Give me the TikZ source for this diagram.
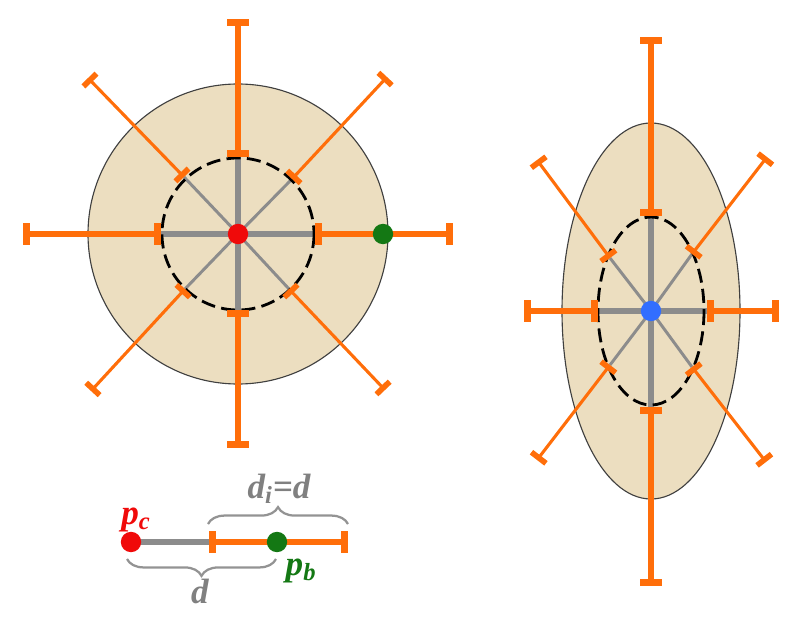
\documentclass[tikz,border=0pt]{standalone}
\usepackage{fontspec}
\setmainfont{Liberation Serif}
\usetikzlibrary{arrows.meta,decorations.pathreplacing}

\definecolor{rayorange}{RGB}{255,110,10}
\definecolor{spokegray}{RGB}{140,140,140}
\definecolor{blobfill}{RGB}{236,222,192}
\definecolor{dotred}{RGB}{240,10,10}
\definecolor{dotgreen}{RGB}{20,120,20}
\definecolor{dotblue}{RGB}{50,110,255}
\definecolor{labelgray}{RGB}{128,128,128}

\tikzset{
  ray/.style={draw=rayorange, line width=4.8pt,
    arrows={Bar[width=15pt,line width=5.2pt]-Bar[width=15pt,line width=5.2pt]}},
  thinray/.style={draw=rayorange, line width=2.2pt,
    arrows={Bar[width=13pt,line width=4pt]-Bar[width=13pt,line width=4pt]}},
  spoke/.style={draw=spokegray, line width=4.3pt},
  thinspoke/.style={draw=spokegray, line width=2.1pt},
  blob/.style={fill=blobfill, draw=black!75, line width=0.8pt},
  innerline/.style={draw=black, line width=2pt, dash pattern=on 10pt off 4.5pt},
  dot/.style={circle, inner sep=0pt, minimum size=14.5pt},
  lbl/.style={font=\fontsize{25}{28}\selectfont\bfseries\itshape, inner sep=0pt},
  curly/.style={draw=labelgray!85, line width=1.6pt, decorate,
    decoration={brace, amplitude=12pt}},
}

\begin{document}
\begin{tikzpicture}[x=0.025cm, y=-0.025cm]
    \useasboundingbox (0,0) rectangle (800,622);

    % Round object
    \coordinate (c1) at (238,234);
    \draw[blob] (c1) circle [radius=150];

    \coordinate (n1) at (315,234); \coordinate (f1) at (453,234);
    \coordinate (n2) at (292,179); \coordinate (f2) at (387,77);
    \coordinate (n3) at (238,157); \coordinate (f3) at (238,19);
    \coordinate (n4) at (184,177); \coordinate (f4) at (88,78);
    \coordinate (n5) at (161,234); \coordinate (f5) at (23,234);
    \coordinate (n6) at (185,289); \coordinate (f6) at (91,391);
    \coordinate (n7) at (238,310); \coordinate (f7) at (238,448);
    \coordinate (n8) at (289,289); \coordinate (f8) at (385,390);

    % Spokes up to the sampling circle
    \draw[spoke] (c1) -- (n1);
    \draw[spoke] (c1) -- (n3);
    \draw[spoke] (c1) -- (n5);
    \draw[spoke] (c1) -- (n7);
    \draw[thinspoke] (c1) -- (n2);
    \draw[thinspoke] (c1) -- (n4);
    \draw[thinspoke] (c1) -- (n6);
    \draw[thinspoke] (c1) -- (n8);
    \draw[innerline] (c1) circle [radius=76];

    % Search intervals
    \draw[ray] (n1) -- (f1);
    \draw[ray] (n3) -- (f3);
    \draw[ray] (n5) -- (f5);
    \draw[ray] (n7) -- (f7);
    \draw[thinray] (n2) -- (f2);
    \draw[thinray] (n4) -- (f4);
    \draw[thinray] (n6) -- (f6);
    \draw[thinray] (n8) -- (f8);

    \node[dot, fill=dotred] (pc1) at (c1) {};
    \node[dot, fill=dotgreen] (pb1) at (383,234) {};

    % Elongated object
    \coordinate (c2) at (651,311);
    \draw[blob] (c2) ellipse [x radius=89, y radius=188];

    \coordinate (m1) at (707,311); \coordinate (g1) at (779,311);
    \coordinate (m2) at (692,254); \coordinate (g2) at (767,157);
    \coordinate (m3) at (651,216); \coordinate (g3) at (651,37);
    \coordinate (m4) at (610,258); \coordinate (g4) at (537,160);
    \coordinate (m5) at (598,311); \coordinate (g5) at (524,311);
    \coordinate (m6) at (610,365); \coordinate (g6) at (537,460);
    \coordinate (m7) at (651,407); \coordinate (g7) at (651,586);
    \coordinate (m8) at (692,367); \coordinate (g8) at (766,462);

    \draw[spoke] (c2) -- (m1);
    \draw[spoke] (c2) -- (m3);
    \draw[spoke] (c2) -- (m5);
    \draw[spoke] (c2) -- (m7);
    \draw[thinspoke] (c2) -- (m2);
    \draw[thinspoke] (c2) -- (m4);
    \draw[thinspoke] (c2) -- (m6);
    \draw[thinspoke] (c2) -- (m8);
    \draw[innerline] (c2) ellipse [x radius=53, y radius=94];

    \draw[ray] (m1) -- (g1);
    \draw[ray] (m3) -- (g3);
    \draw[ray] (m5) -- (g5);
    \draw[ray] (m7) -- (g7);
    \draw[thinray] (m2) -- (g2);
    \draw[thinray] (m4) -- (g4);
    \draw[thinray] (m6) -- (g6);
    \draw[thinray] (m8) -- (g8);

    \node[dot, fill=dotblue] (pc2) at (c2) {};

    % Legend
    \coordinate (l1) at (131,542);
    \coordinate (l2) at (209,542);
    \coordinate (l3) at (348,542);
    \draw[spoke] (l1) -- (l2);
    \draw[ray] (l2) -- (l3);
    \node[dot, fill=dotred] (pc) at (l1) {};
    \node[dot, fill=dotgreen] (pb) at (277,542) {};

    \coordinate (d1) at (127,559);
    \coordinate (d2) at (276,559);
    \coordinate (u1) at (208,524);
    \coordinate (u2) at (348,524);
    \draw[curly] (d2) -- (d1);
    \draw[curly] (u1) -- (u2);

    \node[lbl, text=dotred] (pclab) at (136,520) {p\textsubscript{c}};
    \node[lbl, text=dotgreen] (pblab) at (301,571) {p\textsubscript{b}};
    \node[lbl, text=labelgray] (dlab) at (200,591) {d};
    \node[lbl, text=labelgray] (dilab) at (279,489) {d\textsubscript{i}=d};
\end{tikzpicture}
\end{document}
